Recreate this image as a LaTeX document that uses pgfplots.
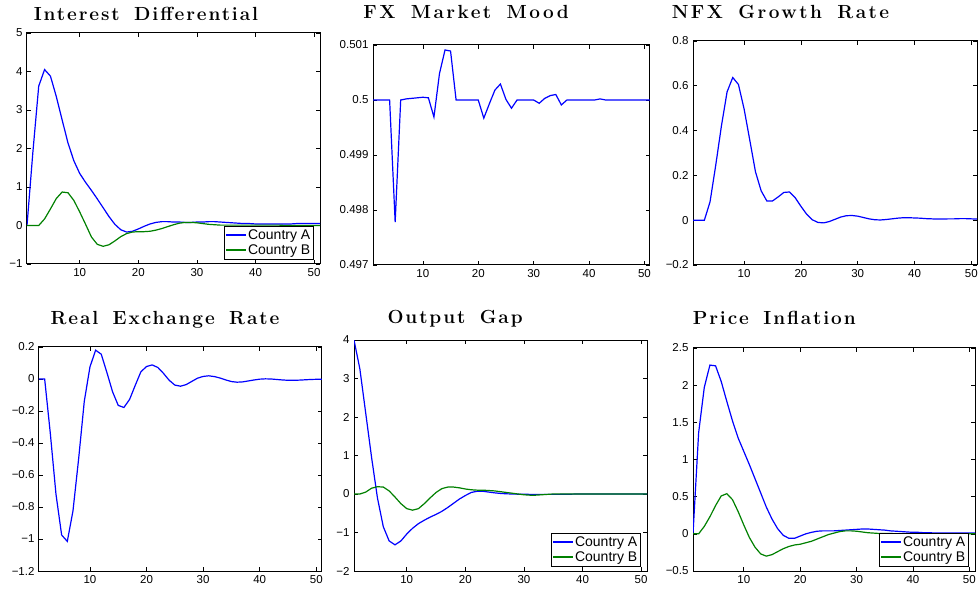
\documentclass[border=0pt]{standalone}
\usepackage{fontspec}
\usepackage{pgfplots}
\pgfplotsset{compat=1.18}
\newfontfamily\tickfont{Liberation Sans}
\newfontfamily\titlefont[LetterSpace=10,WordSpace=1.6]{Latin Modern Roman}
\definecolor{mblue}{rgb}{0,0,1}
\definecolor{mgreen}{rgb}{0,0.5,0}
\pgfplotsset{
  mstyle/.style={
    scale only axis, anchor=south west,
    xmin=1, xmax=51, xtick={10,20,30,40,50}, xticklabels={10,20,30,40,50},
    tick align=inside, major tick length=4pt,
    axis line style={line width=1pt},
    every tick/.style={black, line width=0.6pt},
    ticklabel style={font=\tickfont\fontsize{11.5}{12}\selectfont},
    /pgf/number format/assume math mode=true,
    title style={font=\titlefont\bfseries\fontsize{19}{21}\selectfont, anchor=base},
    xticklabel style={yshift=-1pt},
    yticklabel style={xshift=-1pt},
    legend style={at={(rel axis cs:1,0)}, anchor=south east, xshift=-7pt, yshift=4.5pt,
      font=\tickfont\fontsize{14}{15}\selectfont, draw=black, fill=white,
      inner xsep=1.5pt, inner ysep=2.5pt, nodes={inner sep=1pt}, row sep=2pt},
    legend cell align=left,
    legend image code/.code={\draw[##1, line width=1.4pt] (0pt,0pt) -- (20pt,0pt);},
    every axis plot/.append style={line width=1.2pt},
  },
}
\begin{document}
\begin{tikzpicture}
\path[use as bounding box] (0pt,0pt) rectangle (978pt,592pt);
% Panel 1
\begin{axis}[mstyle, at={(27pt,328pt)}, width=293pt, height=231pt,
  ymin=-1, ymax=5, ytick={-1,0,1,2,3,4,5}, yticklabels={−1,0,1,2,3,4,5},
  title={Interest Differential}, title style={at={(rel axis cs:0.406,1)}, yshift=6.6pt}]
\addplot[color=mblue] coordinates {(1,0)(2,1.9)(3,3.62)(4,4.05)(5,3.88)(6,3.35)(7,2.74)(8,2.14)(9,1.68)(10,1.35)(11,1.12)(12,0.91)(13,0.69)(14,0.46)(15,0.23)(16,0.03)(17,-0.11)(18,-0.17)(19,-0.15)(20,-0.09)(21,-0.02)(22,0.04)(23,0.08)(24,0.1)(25,0.1)(26,0.09)(27,0.09)(28,0.08)(29,0.08)(30,0.09)(31,0.09)(32,0.1)(33,0.1)(34,0.09)(35,0.08)(36,0.07)(37,0.06)(38,0.05)(39,0.05)(40,0.04)(41,0.04)(42,0.04)(43,0.04)(44,0.04)(45,0.04)(46,0.04)(47,0.05)(48,0.05)(49,0.05)(50,0.05)(51,0.05)};
\addplot[color=mgreen] coordinates {(1,0)(2,0)(3,0)(4,0.17)(5,0.43)(6,0.7)(7,0.87)(8,0.85)(9,0.65)(10,0.35)(11,0.03)(12,-0.3)(13,-0.49)(14,-0.54)(15,-0.5)(16,-0.4)(17,-0.29)(18,-0.21)(19,-0.17)(20,-0.16)(21,-0.16)(22,-0.15)(23,-0.12)(24,-0.08)(25,-0.03)(26,0.02)(27,0.06)(28,0.08)(29,0.08)(30,0.07)(31,0.05)(32,0.03)(33,0.02)(34,0.01)(35,0.01)(36,0.01)(37,0.01)(38,0.01)(39,0.01)(40,0.01)(41,0.01)(42,0.01)(43,0.01)(44,0.01)(45,0)(46,0)(47,0)(48,0)(49,0)(50,0)(51,0)};
\legend{Country A, Country B}
\end{axis}
% Panel 2
\begin{axis}[mstyle, at={(373pt,327pt)}, width=277pt, height=220pt,
  ymin=0.497, ymax=0.501, ytick={0.497,0.498,0.499,0.5,0.501}, yticklabels={0.497,0.498,0.499,0.5,0.501},
  title={\addfontfeatures{LetterSpace=13}FX Market Mood}, title style={at={(rel axis cs:0.336,1)}, yshift=20.2pt}]
\addplot[color=mblue] coordinates {(1,0.5)(2,0.5)(3,0.5)(4,0.5)(5,0.49778)(6,0.5)(7,0.50002)(8,0.50003)(9,0.50004)(10,0.50005)(11,0.50004)(12,0.49969)(13,0.50048)(14,0.50091)(15,0.50089)(16,0.5)(17,0.5)(18,0.5)(19,0.5)(20,0.5)(21,0.49967)(22,0.49993)(23,0.50018)(24,0.50029)(25,0.50001)(26,0.49985)(27,0.5)(28,0.5)(29,0.5)(30,0.5)(31,0.49994)(32,0.50003)(33,0.50008)(34,0.5001)(35,0.49991)(36,0.5)(37,0.5)(38,0.5)(39,0.5)(40,0.5)(41,0.5)(42,0.50002)(43,0.5)(44,0.5)(45,0.5)(46,0.5)(47,0.5)(48,0.5)(49,0.5)(50,0.5)(51,0.5)};
\end{axis}
% Panel 3
\begin{axis}[mstyle, at={(693pt,327pt)}, width=284pt, height=224pt,
  ymin=-0.2, ymax=0.8, ytick={-0.2,0,0.2,0.4,0.6,0.8}, yticklabels={−0.2,0,0.2,0.4,0.6,0.8},
  title={\addfontfeatures{LetterSpace=13}NFX Growth Rate}, title style={at={(rel axis cs:0.308,1)}, yshift=16pt}]
\addplot[color=mblue] coordinates {(1,0)(2,0)(3,0)(4,0.082)(5,0.245)(6,0.42)(7,0.573)(8,0.637)(9,0.606)(10,0.496)(11,0.357)(12,0.216)(13,0.131)(14,0.086)(15,0.086)(16,0.104)(17,0.124)(18,0.126)(19,0.1)(20,0.062)(21,0.027)(22,0.002)(23,-0.01)(24,-0.012)(25,-0.006)(26,0.004)(27,0.014)(28,0.02)(29,0.021)(30,0.018)(31,0.012)(32,0.006)(33,0.002)(34,0.001)(35,0.003)(36,0.006)(37,0.009)(38,0.011)(39,0.011)(40,0.01)(41,0.009)(42,0.007)(43,0.006)(44,0.005)(45,0.005)(46,0.006)(47,0.006)(48,0.007)(49,0.007)(50,0.006)(51,0.005)};
\end{axis}
% Panel 4
\begin{axis}[mstyle, at={(39pt,21pt)}, width=283pt, height=224pt,
  ymin=-1.2, ymax=0.2, ytick={-1.2,-1,-0.8,-0.6,-0.4,-0.2,0,0.2}, yticklabels={−1.2,−1,−0.8,−0.6,−0.4,−0.2,0,0.2},
  title={Real Exchange Rate}, title style={at={(rel axis cs:0.445,1)}, yshift=16.7pt}]
\addplot[color=mblue] coordinates {(1,0)(2,0)(3,-0.34)(4,-0.72)(5,-0.975)(6,-1.015)(7,-0.825)(8,-0.5)(9,-0.14)(10,0.075)(11,0.18)(12,0.155)(13,0.04)(14,-0.08)(15,-0.165)(16,-0.178)(17,-0.128)(18,-0.04)(19,0.045)(20,0.078)(21,0.088)(22,0.072)(23,0.035)(24,-0.008)(25,-0.038)(26,-0.045)(27,-0.035)(28,-0.015)(29,0.005)(30,0.016)(31,0.02)(32,0.015)(33,0.006)(34,-0.006)(35,-0.016)(36,-0.02)(37,-0.018)(38,-0.012)(39,-0.006)(40,-0.001)(41,0.001)(42,0)(43,-0.003)(44,-0.006)(45,-0.008)(46,-0.008)(47,-0.007)(48,-0.005)(49,-0.003)(50,-0.002)(51,-0.001)};
\end{axis}
% Panel 5
\begin{axis}[mstyle, at={(354pt,21pt)}, width=293pt, height=231pt,
  ymin=-2, ymax=4, ytick={-2,-1,0,1,2,3,4}, yticklabels={−2,−1,0,1,2,3,4},
  title={Output Gap}, title style={at={(rel axis cs:0.345,1)}, yshift=10.3pt}]
\addplot[color=mblue] coordinates {(1,4)(2,3.25)(3,2.1)(4,0.95)(5,-0.1)(6,-0.85)(7,-1.22)(8,-1.32)(9,-1.22)(10,-1.04)(11,-0.89)(12,-0.77)(13,-0.68)(14,-0.6)(15,-0.53)(16,-0.45)(17,-0.35)(18,-0.24)(19,-0.13)(20,-0.04)(21,0.04)(22,0.07)(23,0.07)(24,0.05)(25,0.03)(26,0.015)(27,0.005)(28,0)(29,-0.005)(30,-0.005)(31,-0.01)(32,-0.01)(33,-0.01)(34,-0.01)(35,-0.01)(36,-0.01)(37,-0.005)(38,-0.005)(39,0)(40,0)(41,0)(42,0)(43,0)(44,0)(45,0)(46,0)(47,0)(48,0)(49,0)(50,0)(51,0)};
\addplot[color=mgreen] coordinates {(1,0)(2,0)(3,0.05)(4,0.15)(5,0.19)(6,0.18)(7,0.08)(8,-0.08)(9,-0.25)(10,-0.38)(11,-0.42)(12,-0.38)(13,-0.25)(14,-0.1)(15,0.04)(16,0.14)(17,0.18)(18,0.18)(19,0.16)(20,0.13)(21,0.11)(22,0.1)(23,0.1)(24,0.09)(25,0.08)(26,0.06)(27,0.04)(28,0.02)(29,0)(30,-0.02)(31,-0.03)(32,-0.03)(33,-0.02)(34,-0.01)(35,0)(36,0)(37,0)(38,0)(39,0)(40,0)(41,0)(42,0)(43,0)(44,0)(45,0)(46,0)(47,0)(48,0)(49,0)(50,0)(51,0)};
\legend{Country A, Country B}
\end{axis}
% Panel 6
\begin{axis}[mstyle, at={(693pt,21pt)}, width=282pt, height=223pt,
  ymin=-0.5, ymax=2.5, ytick={-0.5,0,0.5,1,1.5,2,2.5}, yticklabels={−0.5,0,0.5,1,1.5,2,2.5},
  title={Price Inflation}, title style={at={(rel axis cs:0.288,1)}, yshift=17.7pt}]
\addplot[color=mblue] coordinates {(1,0)(2,1.36)(3,1.97)(4,2.27)(5,2.26)(6,2.05)(7,1.78)(8,1.52)(9,1.29)(10,1.11)(11,0.93)(12,0.74)(13,0.55)(14,0.36)(15,0.2)(16,0.07)(17,-0.02)(18,-0.06)(19,-0.06)(20,-0.03)(21,0)(22,0.02)(23,0.035)(24,0.04)(25,0.04)(26,0.04)(27,0.045)(28,0.05)(29,0.055)(30,0.06)(31,0.065)(32,0.065)(33,0.06)(34,0.055)(35,0.05)(36,0.04)(37,0.035)(38,0.03)(39,0.025)(40,0.02)(41,0.02)(42,0.015)(43,0.015)(44,0.01)(45,0.01)(46,0.01)(47,0.01)(48,0.01)(49,0.01)(50,0.01)(51,0.01)};
\addplot[color=mgreen] coordinates {(1,0)(2,0)(3,0.1)(4,0.23)(5,0.38)(6,0.51)(7,0.54)(8,0.46)(9,0.3)(10,0.12)(11,-0.05)(12,-0.18)(13,-0.27)(14,-0.3)(15,-0.28)(16,-0.24)(17,-0.2)(18,-0.17)(19,-0.15)(20,-0.14)(21,-0.12)(22,-0.1)(23,-0.07)(24,-0.04)(25,-0.01)(26,0.01)(27,0.03)(28,0.04)(29,0.04)(30,0.035)(31,0.025)(32,0.015)(33,0.01)(34,0.005)(35,0.005)(36,0.005)(37,0)(38,0)(39,0)(40,0)(41,0)(42,0)(43,0)(44,0)(45,0)(46,0)(47,0)(48,0)(49,0)(50,0)(51,0)};
\legend{Country A, Country B}
\end{axis}
\end{tikzpicture}
\end{document}
